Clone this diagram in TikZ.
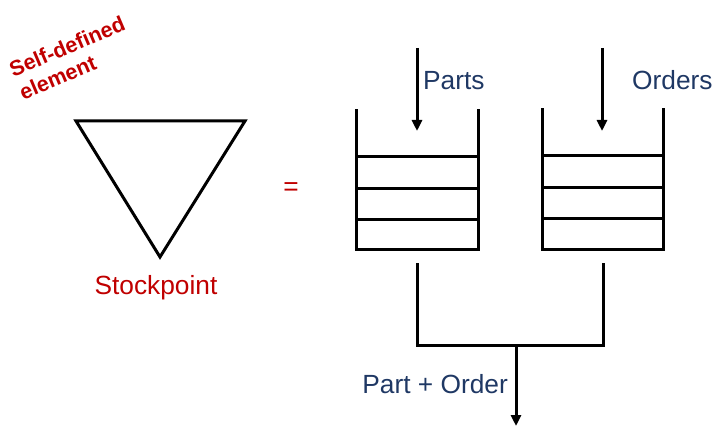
\documentclass[tikz,border=0pt]{standalone}
\usepackage{fontspec}
\setmainfont{Liberation Sans}
\usetikzlibrary{arrows.meta}
\definecolor{darkred}{RGB}{192,0,0}
\definecolor{navy}{RGB}{31,56,100}
\begin{document}
\begin{tikzpicture}[x=1pt,y=-1pt,
  ln/.style={line width=3pt, line cap=rect, line join=miter},
  shelf/.style={line width=3pt},
  arr/.style={line width=3pt, -{Triangle[length=11pt,width=10pt]}},
  bluelbl/.style={text=navy, font=\fontsize{26.3}{30}\selectfont, inner sep=0pt},
  redlbl/.style={text=darkred, font=\fontsize{26.3}{30}\selectfont, inner sep=0pt}]
\useasboundingbox (0,0) rectangle (722,430);
% self-defined element
\node[text=darkred, font=\bfseries\fontsize{21.5}{25}\selectfont, align=left, rotate=23, inner sep=0pt] (self) at (72,58) {Self-defined\\element};
% triangle
\coordinate (tl) at (76,121);
\coordinate (tr) at (245,121);
\coordinate (tb) at (160,257);
\draw[ln] (tl) -- (tr) -- (tb) -- cycle;
\node[redlbl, anchor=base] (stock) at (156,294) {Stockpoint};
\node[redlbl, anchor=base] (eq) at (291,196) {=};
% stack 1
\coordinate (s1tl) at (356,111);
\coordinate (s1tr) at (478,111);
\coordinate (s1bl) at (356,249);
\coordinate (s1br) at (478,249);
\draw[ln] (s1tl) -- (s1bl) -- (s1br) -- (s1tr);
\foreach \yy in {157,189,220} \draw[shelf] (356,\yy) -- (478,\yy);
% stack 2
\coordinate (s2tl) at (542,110);
\coordinate (s2tr) at (663,110);
\coordinate (s2bl) at (542,249);
\coordinate (s2br) at (663,249);
\draw[ln] (s2tl) -- (s2bl) -- (s2br) -- (s2tr);
\foreach \yy in {156,188,219} \draw[shelf] (542,\yy) -- (663,\yy);
% input arrows
\coordinate (a1s) at (417,48);
\coordinate (a1e) at (417,131);
\draw[arr] (a1s) -- (a1e);
\coordinate (a2s) at (602,48);
\coordinate (a2e) at (602,131);
\draw[arr] (a2s) -- (a2e);
\node[bluelbl, anchor=base west] (parts) at (423,90) {Parts};
\node[bluelbl, anchor=base west] (orders) at (632,90) {Orders};
% merge
\coordinate (m1) at (417,264);
\coordinate (m2) at (603,264);
\coordinate (mj) at (516,345);
\draw[ln] (m1) -- (417,345) -- (603,345) -- (m2);
\coordinate (out) at (516,426);
\draw[arr] (mj) -- (out);
\node[bluelbl, anchor=base east] (po) at (508,393) {Part + Order};
\end{tikzpicture}
\end{document}
